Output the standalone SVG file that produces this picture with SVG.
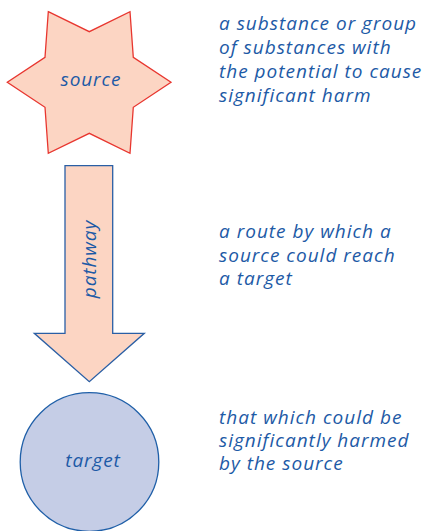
<svg xmlns="http://www.w3.org/2000/svg" width="427" height="531" viewBox="0 0 427 531">
<style>
.lbl{font-family:"Open Sans","Noto Sans","DejaVu Sans",sans-serif;font-style:italic;font-size:19px;letter-spacing:0.9px;fill:#1d5aa6}
.desc{font-family:"Open Sans","Noto Sans","DejaVu Sans",sans-serif;font-style:italic;font-size:19px;letter-spacing:1px;fill:#1d5aa6}
</style>
<rect width="427" height="531" fill="#ffffff"/>
<g id="source">
<polygon points="48.3,11.7 89.3,31.7 130,11.7 133.3,57.3 171,82.3 133.3,107.3 130,153.3 89.3,133.3 48.3,153.3 45,107.3 7.3,82.3 45,57.3" fill="#fcd5c3" stroke="#e8362f" stroke-width="1.3"/>
<text class="lbl" x="91" y="86" text-anchor="middle">source</text>
</g>
<g id="connectors">
<g id="pathway">
<polygon points="65,165.7 112.7,165.7 112.7,333.3 144.3,333.3 89.3,381.7 34.3,333.3 65,333.3" fill="#fcd5c3" stroke="#2a5fa5" stroke-width="1.3"/>
<text class="lbl" transform="translate(96,259) rotate(-90)" text-anchor="middle">pathway</text>
</g>
</g>
<g id="target">
<circle cx="89.5" cy="462" r="69.3" fill="#c5cde6" stroke="#1f5fa8" stroke-width="1.3"/>
<text class="lbl" x="93" y="467" text-anchor="middle">target</text>
</g>
<g id="desc-source">
<text class="desc" x="219" y="30">a substance or group</text>
<text class="desc" x="219" y="54">of substances with</text>
<text class="desc" x="219" y="78">the potential to cause</text>
<text class="desc" x="219" y="102">significant harm</text>
</g>
<g id="desc-pathway">
<text class="desc" x="219" y="238">a route by which a</text>
<text class="desc" x="219" y="262">source could reach</text>
<text class="desc" x="219" y="285">a target</text>
</g>
<g id="desc-target">
<text class="desc" x="219" y="424">that which could be</text>
<text class="desc" x="219" y="447">significantly harmed</text>
<text class="desc" x="219" y="470">by the source</text>
</g>
</svg>
